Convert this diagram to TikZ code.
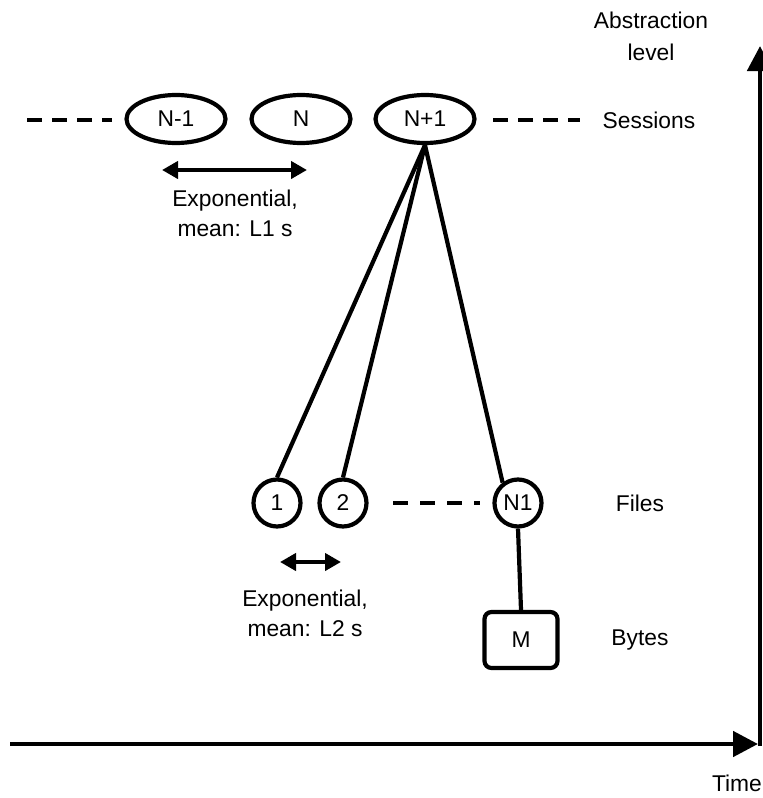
\documentclass[tikz,border=0pt]{standalone}
\usepackage{fontspec}
\setmainfont{Liberation Sans}
\usetikzlibrary{shapes.geometric,arrows.meta}
\begin{document}
\begin{tikzpicture}[x=1pt,y=-1pt,
  every node/.style={font=\fontsize{22.8}{27}\selectfont, inner sep=0pt},
  stroke/.style={line width=4.2pt},
  session/.style={ellipse, draw, stroke, minimum width=99pt, minimum height=48pt},
  file/.style={circle, draw, stroke, minimum size=47pt},
  bytebox/.style={rectangle, draw, stroke, rounded corners=7pt, minimum width=73pt, minimum height=56pt},
  gap/.style={line width=4.8pt, dash pattern=on 15pt off 10pt},
  span/.style={line width=4.5pt, {Triangle[length=16pt,width=17pt]}-{Triangle[length=16pt,width=17pt]}},
  axis/.style={line width=4.8pt, -{Triangle[length=25pt,width=25pt]}}]
\useasboundingbox (0,0) rectangle (763,798);

% session level
\node[session] (nm1) at (176,119) {N-1};
\node[session] (n)   at (301,119) {N};
\node[session] (np1) at (425,119) {N+1};
\node (sess) at (649,120) {Sessions};
\coordinate (sl0) at (27,120);
\coordinate (sl1) at (112,120);
\coordinate (sr0) at (493,120);
\coordinate (sr1) at (580,120);
\draw[gap] (sl0) -- (sl1);
\draw[gap] (sr0) -- (sr1);

% inter-session gap
\coordinate (a1l) at (162,170);
\coordinate (a1r) at (307,170);
\draw[span] (a1l) -- (a1r);
\node[align=center] (l1) at (235,213) {Exponential,\\[3pt]mean: L1 s};

% file level
\node[file] (f1)  at (277,503) {1};
\node[file] (f2)  at (343,503) {2};
\node[file] (fn1) at (518,503) {N1};
\node (files) at (640,503) {Files};
\coordinate (fd0) at (393,503);
\coordinate (fd1) at (480,503);
\draw[gap, dash pattern=on 15pt off 12pt] (fd0) -- (fd1);

% session to files
\draw[stroke] (np1.south) -- (f1.north);
\draw[stroke] (np1.south) -- (f2.north);
\draw[stroke] (np1.south) -- (fn1.127);

% inter-file gap
\coordinate (a2l) at (280,562);
\coordinate (a2r) at (341,562);
\draw[span] (a2l) -- (a2r);
\node[align=center] (l2) at (305,613) {Exponential,\\[3pt]mean: L2 s};

% byte level
\node[bytebox] (m) at (521,640) {M};
\node (bytes) at (640,640) {Bytes};
\draw[stroke] (fn1.south) -- (m.north);

% axes
\coordinate (t0) at (10,744);
\coordinate (t1) at (758,744);
\draw[axis] (t0) -- (t1);
\node (time) at (737,783) {Time};
\coordinate (v0) at (760,746);
\coordinate (v1) at (760,46);
\draw[axis] (v0) -- (v1);
\node[align=center] (abs) at (651,36) {Abstraction\\[5pt]level};
\end{tikzpicture}
\end{document}
